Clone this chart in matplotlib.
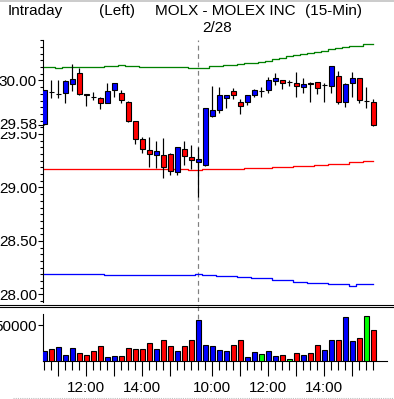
import matplotlib
matplotlib.use('Agg')
import matplotlib.pyplot as plt
import numpy as np
import pandas as pd
from matplotlib.lines import Line2D
from matplotlib.ticker import FixedLocator, MultipleLocator

plt.rcParams['font.family'] = ['Liberation Sans', 'DejaVu Sans']

# 15-min bars: tail of previous session + 2/28 session
times = list(pd.date_range('2000-02-27 10:30', '2000-02-27 15:45', freq='15min')) + \
        list(pd.date_range('2000-02-28 09:30', '2000-02-28 15:45', freq='15min'))

opens = [29.59, 29.89, 29.87, 29.88, 29.97, 30.07, 29.875, 29.85, 29.84, 29.79,
         29.91, 29.88, 29.80, 29.62, 29.45, 29.35, 29.30, 29.30, 29.31, 29.145,
         29.357, 29.285, 29.236, 29.21, 29.67, 29.72, 29.84, 29.90, 29.80, 29.80,
         29.86, 29.90, 29.91, 29.998, 30.005, 29.985, 29.974, 29.936, 29.975, 29.986,
         29.955, 29.951, 30.04, 29.80, 29.974, 30.02, 29.81, 29.80]
highs = [29.91, 30.00, 30.00, 30.00, 30.15, 30.12, 29.875, 29.89, 29.85, 29.98,
         29.98, 29.91, 29.81, 29.62, 29.475, 29.47, 29.435, 29.46, 29.32, 29.376,
         29.43, 29.40, 29.376, 29.74, 29.95, 29.94, 29.865, 29.93, 29.83, 29.865,
         29.92, 29.94, 30.03, 30.07, 30.005, 30.00, 30.08, 30.02, 29.99, 29.99,
         29.977, 30.136, 30.09, 29.974, 30.08, 30.02, 29.936, 29.824]
lows = [29.58, 29.84, 29.84, 29.79, 29.90, 29.86, 29.76, 29.82, 29.73, 29.79,
        29.85, 29.79, 29.615, 29.41, 29.32, 29.19, 29.185, 29.086, 29.12, 29.12,
        29.21, 29.17, 28.907, 29.20, 29.66, 29.70, 29.745, 29.83, 29.69, 29.775,
        29.85, 29.85, 29.88, 29.955, 29.92, 29.95, 29.85, 29.88, 29.80, 29.87,
        29.80, 29.88, 29.78, 29.755, 29.85, 29.787, 29.746, 29.578]
closes = [29.91, 29.89, 29.87, 29.995, 30.01, 29.87, 29.865, 29.85, 29.79, 29.90,
          29.98, 29.815, 29.62, 29.45, 29.36, 29.31, 29.34, 29.19, 29.154, 29.376,
          29.29, 29.254, 29.27, 29.74, 29.72, 29.86, 29.86, 29.86, 29.76, 29.865,
          29.91, 29.90, 30.00, 30.02, 29.98, 29.985, 29.946, 29.965, 29.965, 29.927,
          29.955, 30.136, 29.80, 29.965, 30.02, 29.815, 29.81, 29.58]

upper_band = [30.123, 30.123, 30.117, 30.123, 30.123, 30.123, 30.123, 30.123, 30.123, 30.133,
              30.133, 30.142, 30.136, 30.136, 30.123, 30.123, 30.123, 30.123, 30.123, 30.123,
              30.123, 30.114, 30.114, 30.114, 30.138, 30.138, 30.145, 30.145, 30.151, 30.161,
              30.161, 30.170, 30.185, 30.201, 30.213, 30.232, 30.241, 30.248, 30.260, 30.269,
              30.279, 30.292, 30.307, 30.316, 30.325, 30.325, 30.341, 30.341]
mid_band = [29.173] * 21 + [29.168, 29.164, 29.173, 29.173, 29.173, 29.173, 29.173, 29.173,
            29.182, 29.182, 29.182, 29.182, 29.192, 29.192, 29.192, 29.201, 29.201, 29.201,
            29.210, 29.210, 29.220, 29.220, 29.220, 29.236, 29.236, 29.245, 29.245]
lower_band = [28.189] * 9 + [28.179] * 13 + [28.189, 28.179, 28.179, 28.170, 28.170, 28.170,
              28.161, 28.161, 28.151, 28.151, 28.151, 28.136, 28.136, 28.136, 28.120, 28.120,
              28.105, 28.105, 28.105, 28.095, 28.095, 28.095, 28.082, 28.095, 28.095, 28.095]

volumes = [13900, 16700, 19400, 8300, 18000, 11100, 8300, 13900, 20800, 5600,
           6900, 6900, 18000, 16700, 16700, 25000, 16700, 29200, 20800, 13900,
           20800, 29200, 56900, 22200, 20800, 15300, 13900, 22200, 29200, 5600,
           12500, 9700, 13900, 6900, 8300, 2800, 11100, 8300, 11100, 22200,
           15300, 29200, 29200, 61100, 27800, 31900, 62500, 43100]
vol_colors = ['b', 'r', 'b', 'b', 'b', 'r', 'r', 'r', 'r', 'b',
              'b', 'r', 'r', 'r', 'r', 'r', 'b', 'r', 'r', 'b',
              'r', 'r', 'b', 'b', 'b', 'b', 'b', 'r', 'r', 'b',
              'b', 'g', 'b', 'b', 'r', 'g', 'r', 'b', 'r', 'r',
              'b', 'b', 'r', 'b', 'b', 'r', 'g', 'r']
last_price = 29.58

cmap = {'b': '#0000ff', 'r': '#ff0000', 'g': '#00ff00'}
W, H = 394, 399
px = 72 / 100  # one pixel in points

fig = plt.figure(figsize=(W / 100, H / 100), dpi=100)
left, right = 43 / W, (387 - 43) / W
ax = fig.add_axes([left, 1 - 302 / H, right, 262 / H])
axv = fig.add_axes([left, 1 - 361 / H, right, 55 / H])

x = np.arange(len(times))
o = np.array(opens)
c = np.array(closes)
body_col = np.where(c > o, '#0000ff', np.where(c < o, '#ff0000', 'black'))

# price panel
ax.plot(x, upper_band, color='#008000', lw=1.3 * px, drawstyle='steps-mid')
ax.plot(x, mid_band, color='#ff0000', lw=1.3 * px, drawstyle='steps-mid')
ax.plot(x, lower_band, color='#0000ff', lw=1.3 * px, drawstyle='steps-mid')
ax.vlines(x, lows, highs, color='black', lw=1.2 * px, zorder=3)
ax.bar(x, np.abs(c - o), bottom=np.minimum(o, c), width=0.64, color=body_col,
       edgecolor='black', linewidth=1.1 * px, zorder=4)

day_start = 22
for a in (ax, axv):
    a.axvline(day_start, color='#808080', lw=1.2 * px, dashes=(4, 3), zorder=1)
    a.set_xlim(-0.186, 48.96)
    a.spines['top'].set_visible(False)
    a.spines['right'].set_visible(False)
    a.spines['left'].set_linewidth(1.1 * px)
    a.spines['bottom'].set_linewidth(1.1 * px)

ax.spines['bottom'].set_visible(False)
ax.set_ylim(27.9299, 30.3785)
ax.set_xticks([])
yt = [28.0, 28.5, 29.0, 29.5, last_price, 30.0]
ax.yaxis.set_major_locator(FixedLocator(yt))
ax.set_yticklabels(['28.00', '28.50', '29.00', '29.50', '', '30.00'])
ax.yaxis.set_minor_locator(MultipleLocator(0.0625))
ax.tick_params(axis='y', which='major', length=5 * px, width=1.1 * px, pad=0.8, labelsize=11)
ax.tick_params(axis='y', which='minor', length=3 * px, width=1.1 * px)
ax.annotate('%.2f' % last_price, xy=(0, last_price), xycoords=('axes fraction', 'data'),
            xytext=(-5 * px - 0.8, 0), textcoords='offset points', ha='right', va='center',
            fontsize=11, bbox=dict(facecolor='white', edgecolor='none', pad=0), annotation_clip=False)

# volume panel
axv.bar(x, volumes, width=0.64, color=[cmap[k] for k in vol_colors],
        edgecolor='black', linewidth=1.1 * px, zorder=3)
axv.set_ylim(0, 76389)
axv.spines['left'].set_bounds(0, 65000)
axv.set_yticks([50000])
axv.set_yticklabels(['50000'])
axv.tick_params(axis='y', length=5 * px, width=1.1 * px, pad=0.8, labelsize=11)

hour_idx = [i for i, t in enumerate(times) if t.minute == 0]
hour_lbl = ['%d:00' % times[i].hour if times[i].hour % 2 == 0 else '' for i in hour_idx]
axv.xaxis.set_major_locator(FixedLocator(hour_idx))
axv.set_xticklabels(hour_lbl)
axv.xaxis.set_minor_locator(FixedLocator(list(x)))
axv.tick_params(axis='x', which='major', length=15 * px, width=1.1 * px, pad=3.5, labelsize=11)
axv.tick_params(axis='x', which='minor', length=9 * px, width=1.1 * px)

# header text
fig.text(8 / W, 1 - 11 / H, 'Intraday', fontsize=11, va='center', ha='left')
fig.text(99 / W, 1 - 11 / H, '(Left)', fontsize=11, va='center', ha='left')
fig.text(155 / W, 1 - 11 / H, 'MOLX - MOLEX INC', fontsize=11, va='center', ha='left')
fig.text(305 / W, 1 - 11 / H, '(15-Min)', fontsize=11, va='center', ha='left')
fig.text(217 / W, 1 - 27.5 / H, '2/28', fontsize=11, va='center', ha='center')

# panel separators and frame
for yy in (304.5, 306.5):
    fig.add_artist(Line2D([0, 1], [1 - yy / H] * 2, transform=fig.transFigure,
                          color='black', lw=1.1 * px))
fig.add_artist(Line2D([0, 1], [1 - 0.8 / H] * 2, transform=fig.transFigure,
                      color='#c0c0c0', lw=1.6 * px))
fig.add_artist(Line2D([13 / W, 1], [1 - 397.5 / H] * 2, transform=fig.transFigure,
                      color='#c0c0c0', lw=1.1 * px, dashes=(1, 1)))

fig.savefig('out.png', dpi=100)
